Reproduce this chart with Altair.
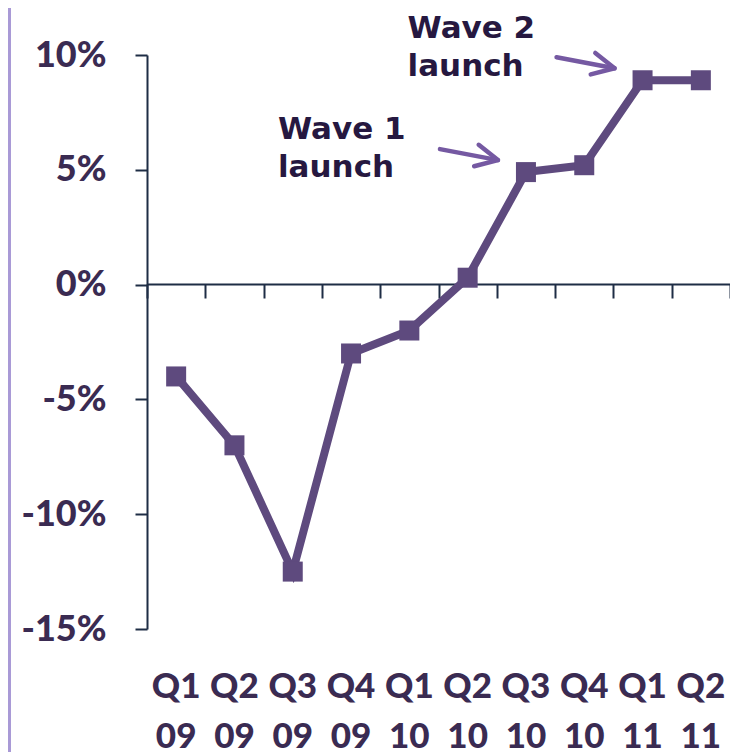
import altair as alt
import pandas as pd

quarters = ["Q1 09", "Q2 09", "Q3 09", "Q4 09", "Q1 10", "Q2 10", "Q3 10", "Q4 10", "Q1 11", "Q2 11"]
growth = [-4.0, -7.0, -12.5, -3.0, -2.0, 0.3, 4.9, 5.2, 8.9, 8.9]
y_ticks = [-15, -10, -5, 0, 5, 10]

wave1_q = ["Q3 10"]
wave1_v = [4.9]
wave1_text = ["Wave 1\nlaunch"]
wave2_q = ["Q1 11"]
wave2_v = [8.9]
wave2_text = ["Wave 2\nlaunch"]

df = pd.DataFrame({"q": quarters, "v": growth})
w1 = pd.DataFrame({"q": wave1_q, "v": wave1_v, "t": wave1_text})
w2 = pd.DataFrame({"q": wave2_q, "v": wave2_v, "t": wave2_text})
arrows = pd.concat([w1, w2], ignore_index=True)

LINE = "#5E4A7E"
ARROW = "#7559A2"
AXIS = "#1E2D45"
LABEL = "#3A2B52"
ANN = "#261840"

xscale = alt.Scale(type="band", domain=quarters, paddingInner=0, paddingOuter=0)
yscale = alt.Scale(domain=[-15, 10], nice=False, zero=False)

label_axis = alt.Axis(
    orient="bottom", domain=False, ticks=False, grid=False, title=None,
    labelExpr="split(datum.label, ' ')", labelFont="Lato", labelFontSize=35,
    labelFontWeight=900, labelColor=LABEL, labelLineHeight=50, labelPadding=40,
    labelAngle=0,
)
zero_axis = alt.Axis(
    orient="bottom", offset=-345, labels=False, grid=False, title=None,
    tickBand="extent", tickSize=14, tickWidth=2, tickColor=AXIS,
    domainColor=AXIS, domainWidth=2,
)
y_axis = alt.Axis(
    values=y_ticks, labelExpr="datum.value + '%'", grid=False, title=None,
    tickSize=12, tickWidth=2, tickColor=AXIS, domainColor=AXIS, domainWidth=2,
    labelFont="Lato", labelFontSize=36, labelFontWeight=900, labelColor=LABEL,
    labelPadding=29,
)

def Y():
    return alt.Y("v:Q", scale=yscale, axis=y_axis)

line = alt.Chart(df).mark_line(color=LINE, strokeWidth=8).encode(
    x=alt.X("q:N", scale=xscale, sort=quarters, bandPosition=0.5, axis=label_axis),
    y=Y(),
)
points = alt.Chart(df).mark_point(shape="square", filled=True, size=400, color=LINE, opacity=1).encode(
    x=alt.X("q:N", scale=xscale, sort=quarters, bandPosition=0.5, axis=zero_axis),
    y=Y(),
)

shaft = alt.Chart(arrows).mark_rule(
    color=ARROW, strokeWidth=4.5, strokeCap="round",
    xOffset=-86, yOffset=-23, x2Offset=-28, y2Offset=-12,
).encode(
    x=alt.X("q:N", scale=xscale, bandPosition=0.5, axis=None),
    x2=alt.X2("q:N", bandPosition=0.5),
    y=Y(),
    y2="v:Q",
)
head = alt.Chart(arrows).mark_point(
    shape="M-1,-0.5L0,0L-1,0.5", filled=False, color=ARROW, strokeWidth=4.5,
    strokeCap="round", strokeJoin="round", size=1936, angle=12, opacity=1,
    xOffset=-28, yOffset=-12,
).encode(
    x=alt.X("q:N", scale=xscale, bandPosition=0.5, axis=None),
    y=Y(),
)

def ann(data, dx, dy):
    return alt.Chart(data).mark_text(
        align="left", baseline="alphabetic", lineBreak="\n", dx=dx, dy=dy,
        font="DejaVu Sans", fontSize=31, fontWeight="bold", color=ANN, lineHeight=38,
    ).encode(
        x=alt.X("q:N", scale=xscale, bandPosition=0.5, axis=None),
        y=Y(),
        text="t:N",
    )

t1 = ann(w1, -248, -33)
t2 = ann(w2, -235, -42)

border = alt.Chart(df).mark_rule(color="#A99AD6", strokeWidth=3).encode(
    x=alt.value(-137.5), y=alt.value(-60), y2=alt.value(720),
)

chart = alt.layer(border, line, points, shaft, head, t1, t2).resolve_axis(
    x="independent"
).properties(
    width=583, height=574,
    autosize=alt.AutoSizeParams(type="none"),
    padding={"left": 139, "top": 47, "right": 0, "bottom": 123},
).configure_view(stroke=None)

chart.save("out.html", embed_options={"renderer": "svg", "actions": False})
